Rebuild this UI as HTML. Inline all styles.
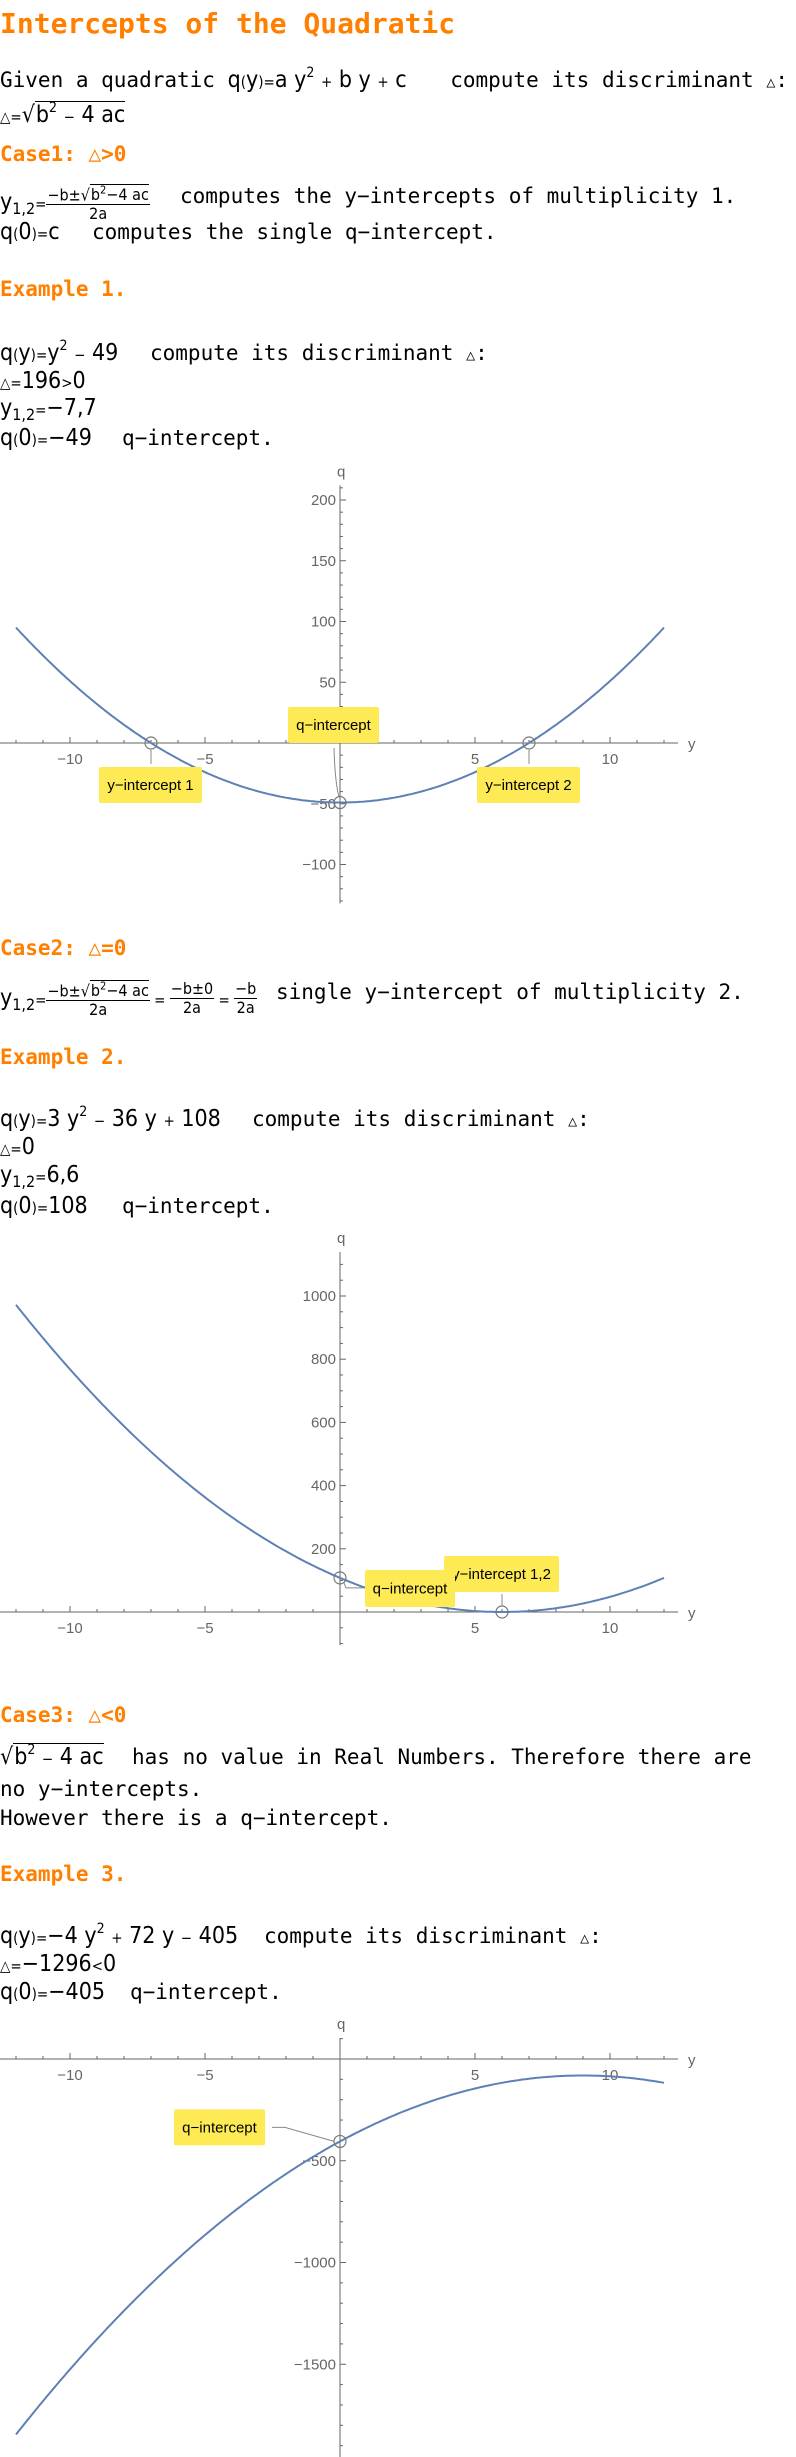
<!DOCTYPE html>
<html><head><meta charset="utf-8">
<style>
body{margin:0;background:#fff;width:796px;height:2457px;position:relative;overflow:hidden;font-family:"DejaVu Sans Mono","Liberation Mono",monospace;font-size:21px;color:#000}
.l{position:absolute;left:0;height:28px;line-height:28px;white-space:nowrap}
.h{color:#ff8000;font-weight:bold}
.m{display:inline-block;white-space:nowrap;font-family:"DejaVu Sans Condensed","DejaVu Sans",sans-serif;font-size:23px;vertical-align:top;overflow:visible}
.o{font-size:15px}
.s{font-size:14px;vertical-align:10px;line-height:0}
.sb{font-size:16px;vertical-align:-5px;line-height:0}
.fr{display:inline-block;vertical-align:middle;text-align:center;font-size:16px;line-height:18px}
.fr .n{border-bottom:1px solid #000;padding:0 1px}
.sq{border-top:1px solid #000;padding-left:1px}
svg{position:absolute;left:0;top:0}
.tk{font-family:"Liberation Sans",sans-serif;font-size:15px;fill:#666}
.lb{font-family:"Liberation Sans",sans-serif;font-size:15px;fill:#000}
</style></head><body>
<svg id="plots" width="796" height="2457"></svg>

<div class="l h" style="top:10px;font-size:28px">Intercepts of the Quadratic</div>
<div class="l" style="top:66px">Given a quadratic <span class="m" style="width:210px">q<span class="o">(</span>y<span class="o">)</span><span class="o">=</span>a y<span class="s">2</span> <span class="o">+</span> b y <span class="o">+</span> c</span> compute its discriminant <span class="o">△</span>:</div>
<div class="l" style="top:101px"><span class="m"><span class="o">△=</span>√<span class="sq">b<span class="s">2</span> <span class="o">−</span> 4 ac</span></span></div>
<div class="l h" style="top:140px">Case1: △&gt;0</div>
<div class="l" style="top:182px"><span class="m" style="width:180px">y<span class="sb">1,2</span><span class="o">=</span><span class="fr"><div class="n">−b±√<span class="sq">b<sup style="font-size:11px">2</sup>−4 ac</span></div><div>2a</div></span></span>computes the y−intercepts of multiplicity 1.</div>
<div class="l" style="top:218px"><span class="m" style="width:92px">q<span class="o">(</span>0<span class="o">)</span><span class="o">=</span>c</span>computes the single q−intercept.</div>
<div class="l h" style="top:275px">Example 1.</div>
<div class="l" style="top:339px"><span class="m" style="width:150px">q<span class="o">(</span>y<span class="o">)</span><span class="o">=</span>y<span class="s">2</span> <span class="o">−</span> 49</span>compute its discriminant <span class="o">△</span>:</div>
<div class="l" style="top:367px"><span class="m"><span class="o">△=</span>196<span class="o">&gt;</span>0</span></div>
<div class="l" style="top:394px"><span class="m">y<span class="sb">1,2</span><span class="o">=</span>−7,7</span></div>
<div class="l" style="top:424px"><span class="m" style="width:122px">q<span class="o">(</span>0<span class="o">)</span><span class="o">=</span>−49</span>q−intercept.</div>

<div class="l h" style="top:934px">Case2: △=0</div>
<div class="l" style="top:978px"><span class="m" style="width:276px">y<span class="sb">1,2</span><span class="o">=</span><span class="fr"><div class="n">−b±√<span class="sq">b<sup style="font-size:11px">2</sup>−4 ac</span></div><div>2a</div></span><span class="o"> = </span><span class="fr"><div class="n">−b±0</div><div>2a</div></span><span class="o"> = </span><span class="fr"><div class="n">−b</div><div>2a</div></span></span>single y−intercept of multiplicity 2.</div>
<div class="l h" style="top:1043px">Example 2.</div>
<div class="l" style="top:1105px"><span class="m" style="width:252px">q<span class="o">(</span>y<span class="o">)</span><span class="o">=</span>3 y<span class="s">2</span> <span class="o">−</span> 36 y <span class="o">+</span> 108</span>compute its discriminant <span class="o">△</span>:</div>
<div class="l" style="top:1133px"><span class="m"><span class="o">△=</span>0</span></div>
<div class="l" style="top:1161px"><span class="m">y<span class="sb">1,2</span><span class="o">=</span>6,6</span></div>
<div class="l" style="top:1192px"><span class="m" style="width:122px">q<span class="o">(</span>0<span class="o">)</span><span class="o">=</span>108</span>q−intercept.</div>

<div class="l h" style="top:1701px">Case3: △&lt;0</div>
<div class="l" style="top:1743px"><span class="m" style="width:132px">√<span class="sq">b<span class="s">2</span> <span class="o">−</span> 4 ac</span></span>has no value in Real Numbers. Therefore there are</div>
<div class="l" style="top:1775px">no y−intercepts.</div>
<div class="l" style="top:1804px">However there is a q−intercept.</div>
<div class="l h" style="top:1860px">Example 3.</div>
<div class="l" style="top:1922px"><span class="m" style="width:264px">q<span class="o">(</span>y<span class="o">)</span><span class="o">=</span>−4 y<span class="s">2</span> <span class="o">+</span> 72 y <span class="o">−</span> 405</span>compute its discriminant <span class="o">△</span>:</div>
<div class="l" style="top:1950px"><span class="m"><span class="o">△=</span>−1296<span class="o">&lt;</span>0</span></div>
<div class="l" style="top:1978px"><span class="m" style="width:130px">q<span class="o">(</span>0<span class="o">)</span><span class="o">=</span>−405</span>q−intercept.</div>

<script>
// quadratic coefficients per example
const coefA = [1, 3, -4];
const coefB = [0, -36, 72];
const coefC = [-49, 108, -405];
// tick labels
const xTicks = [-10, -5, 5, 10];
const yTicks1 = [-100, -50, 50, 100, 150, 200];
const yTicks2 = [200, 400, 600, 800, 1000];
const yTicks3 = [-1500, -1000, -500];
// intercept values
const yInts1 = [-7, 7];
const yInts2 = [6];
const yInts3 = [];

const NS = 'http://www.w3.org/2000/svg';
const svg = document.getElementById('plots');
function mk(tag, attrs, parent) {
  const e = document.createElementNS(NS, tag);
  for (const k in attrs) e.setAttribute(k, attrs[k]);
  (parent || svg).appendChild(e);
  return e;
}
const X0 = 340, KX = 27;
const sx = v => X0 + KX * v;

const charts = [
  {y0: 743, k: 1.215, qmax: 212, qmin: -132, minor: 10, yTicks: yTicks1, ints: yInts1},
  {y0: 1612, k: 0.316, qmax: 1139, qmin: -105, minor: 50, yTicks: yTicks2, ints: yInts2},
  {y0: 2059, k: 0.2035, qmax: 103, qmin: -1960, minor: 100, yTicks: yTicks3, ints: yInts3}
];

charts.forEach((c, i) => {
  const sy = v => c.y0 - c.k * v;
  const g = mk('g', {});
  
  
  const xa = mk('line', {x1: 0, x2: 678, y1: c.y0, y2: c.y0, stroke: '#666', 'stroke-width': 1}, g);
  
  
  const ya = mk('line', {x1: X0, x2: X0, y1: sy(c.qmax), y2: Math.min(2457, sy(c.qmin)), stroke: '#666', 'stroke-width': 1}, g);
  
  
  for (let v = -12; v <= 12; v++) {
    if (v === 0) continue;
    const len = v % 5 === 0 ? 6 : 3;
    mk('line', {x1: sx(v), x2: sx(v), y1: c.y0, y2: c.y0 - len, stroke: '#666'}, g);
  }
  for (let v = Math.ceil(c.qmin / c.minor) * c.minor; v <= c.qmax; v += c.minor) {
    if (v === 0) continue;
    const len = c.yTicks.includes(v) ? 6 : 3;
    mk('line', {x1: X0, x2: X0 + len, y1: sy(v), y2: sy(v), stroke: '#666'}, g);
  }
  xTicks.forEach(v => {
    const t = mk('text', {x: sx(v), y: c.y0 + 21, 'text-anchor': 'middle', class: 'tk'}, g);
    t.textContent = (v < 0 ? '−' : '') + Math.abs(v);
    
    
  });
  c.yTicks.forEach(v => {
    const t = mk('text', {x: X0 - 4, y: sy(v) + 5, 'text-anchor': 'end', class: 'tk'}, g);
    t.textContent = (v < 0 ? '−' : '') + Math.abs(v);
    
    
  });
  const ql = mk('text', {x: X0 - 3, y: sy(c.qmax) - 9, class: 'tk'}, g);
  ql.textContent = 'q';
  
  
  const yl = mk('text', {x: 688, y: c.y0 + 6, class: 'tk'}, g);
  yl.textContent = 'y';
  
  
  const f = v => coefA[i] * v * v + coefB[i] * v + coefC[i];
  let d = '';
  for (let s = 0; s <= 240; s++) {
    const v = -12 + s * 0.1;
    d += (s ? 'L' : 'M') + sx(v).toFixed(1) + ',' + sy(f(v)).toFixed(1);
  }
  const p = mk('path', {d: d, fill: 'none', stroke: '#5e81b5', 'stroke-width': 2}, g);
  
  
  c.sy = sy; c.f = f; c.g = g;
});

function box(g, x, y, w, h, text, name) {
  const b = mk('g', {}, g);
  
  
  mk('rect', {x: x, y: y, width: w, height: h, rx: 2, fill: '#fdea55'}, b);
  const t = mk('text', {x: x + w / 2, y: y + h / 2 + 5, 'text-anchor': 'middle', class: 'lb'}, b);
  t.textContent = text;
}
function circ(g, x, y) {
  const e = mk('circle', {cx: x, cy: y, r: 6, fill: 'none', stroke: '#777', 'stroke-width': 1.2}, g);
  
  
}
function lead(g, d) { mk('path', {d: d, fill: 'none', stroke: '#888', 'stroke-width': 1}, g); }

(function () {
  const c = charts[0];
  c.ints.forEach((v, j) => {
    circ(c.g, sx(v), c.y0);
    lead(c.g, `M${sx(v)},${c.y0 + 7}V${c.y0 + 21}`);
    box(c.g, sx(v) - 52, c.y0 + 24, 103, 36, 'y−intercept ' + (j + 1), 'y-intercept-label-' + (j + 1));
  });
  const qy = c.sy(c.f(0));
  circ(c.g, X0, qy);
  lead(c.g, `M334,${c.y0 + 5}Q335,${qy - 20} ${X0 - 1},${qy - 6}`);
  box(c.g, 288, c.y0 - 36, 91, 36, 'q−intercept', 'q-intercept-label');
})();
(function () {
  const c = charts[1];
  c.ints.forEach(v => {
    circ(c.g, sx(v), c.y0);
    lead(c.g, `M${sx(v)},${c.y0 - 6}V${c.y0 - 18}`);
    box(c.g, 444, c.y0 - 56, 115, 36, 'y−intercept 1,2', 'y-intercept-label');
  });
  const qy = c.sy(c.f(0));
  circ(c.g, X0, qy);
  lead(c.g, `M${X0 + 4},${qy + 5}L${X0 + 6},${qy + 10}H365`);
  box(c.g, 365, c.y0 - 42, 90, 37, 'q−intercept', 'q-intercept-label');
})();
(function () {
  const c = charts[2];
  const qy = c.sy(c.f(0));
  circ(c.g, X0, qy);
  lead(c.g, `M272,${qy - 14}H285L${X0 - 6},${qy}`);
  box(c.g, 174, qy - 32, 91, 36, 'q−intercept', 'q-intercept-label');
})();
</script>
</body></html>
